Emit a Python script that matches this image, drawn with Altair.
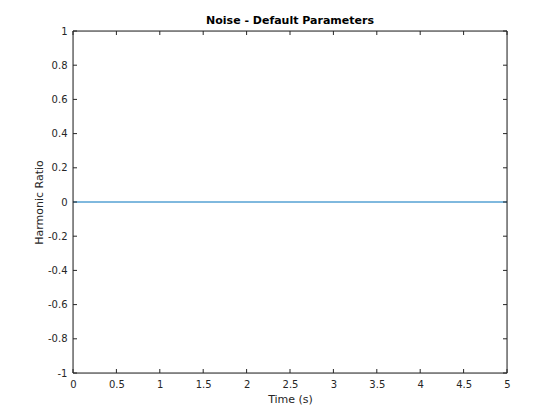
import altair as alt
import pandas as pd

time_s = [0, 5]
harmonic_ratio = [0, 0]
x_ticks = [0, 0.5, 1, 1.5, 2, 2.5, 3, 3.5, 4, 4.5, 5]
y_ticks = [-1, -0.8, -0.6, -0.4, -0.2, 0, 0.2, 0.4, 0.6, 0.8, 1]

W, H = 434, 342
TL = 4

line_df = pd.DataFrame({"t": time_s, "r": harmonic_ratio})
xt_df = pd.DataFrame({"t": x_ticks})
yt_df = pd.DataFrame({"r": y_ticks})
one = pd.DataFrame({"k": [0]})

xscale = alt.Scale(domain=[0, 5], nice=False, zero=False)
yscale = alt.Scale(domain=[-1, 1], nice=False, zero=False)

axis_common = dict(grid=False, domain=False, ticks=False, labelFont="DejaVu Sans",
                   labelFontSize=10, labelColor="#262626", titleFont="DejaVu Sans",
                   titleFontSize=11, titleColor="#262626", titleFontWeight="normal",
                   labelOverlap=False, labelFlush=False, labelBound=False,
                   labelExpr="replace(format(datum.value, '~g'), '\u2212', '-')")

xaxis = alt.Axis(values=x_ticks, labelPadding=6, titlePadding=4, **axis_common)
yaxis = alt.Axis(values=y_ticks, labelPadding=6, titlePadding=3, **axis_common)
XT = "Time (s)"
YT = "Harmonic Ratio"

line = alt.Chart(line_df).mark_line(color="#0072BD", strokeWidth=1, clip=True).encode(
    x=alt.X("t:Q", scale=xscale, title=XT, axis=xaxis),
    y=alt.Y("r:Q", scale=yscale, title=YT, axis=yaxis),
)

tick_color = "#262626"
xb = alt.Chart(xt_df).mark_rule(color=tick_color, strokeWidth=1).encode(
    x=alt.X("t:Q", scale=xscale, title=XT, axis=xaxis), y=alt.value(H), y2=alt.value(H - TL))
xtop = alt.Chart(xt_df).mark_rule(color=tick_color, strokeWidth=1).encode(
    x=alt.X("t:Q", scale=xscale, title=XT, axis=xaxis), y=alt.value(0), y2=alt.value(TL))
yl = alt.Chart(yt_df).mark_rule(color=tick_color, strokeWidth=1).encode(
    y=alt.Y("r:Q", scale=yscale, title=YT, axis=yaxis), x=alt.value(0), x2=alt.value(TL))
yr = alt.Chart(yt_df).mark_rule(color=tick_color, strokeWidth=1).encode(
    y=alt.Y("r:Q", scale=yscale, title=YT, axis=yaxis), x=alt.value(W), x2=alt.value(W - TL))

box = alt.Chart(one).mark_rect(fill=None, stroke=tick_color, strokeWidth=1).encode(
    x=alt.value(0), x2=alt.value(W), y=alt.value(0), y2=alt.value(H))

chart = alt.layer(line, xb, xtop, yl, yr, box).properties(
    width=W, height=H,
    title=alt.TitleParams("Noise - Default Parameters", font="DejaVu Sans", fontSize=11,
                          fontWeight="bold", color="black", anchor="middle", offset=0),
    autosize=alt.AutoSizeParams(type="none"),
    padding={"left": 65, "top": 23, "right": 30, "bottom": 40},
).configure_view(strokeWidth=0).configure(background="white")

chart.save("out.html", embed_options={"renderer": "svg", "actions": False})
